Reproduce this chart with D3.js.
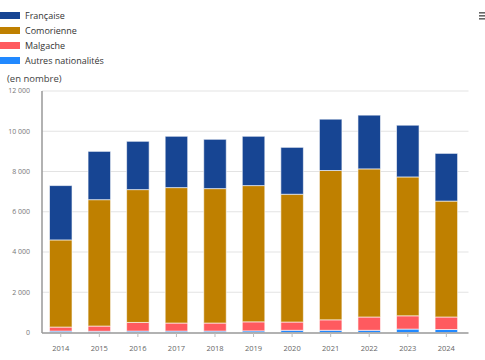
<!DOCTYPE html>
<html><head><meta charset="utf-8">
<script src="https://cdn.jsdelivr.net/npm/d3@7"></script>
<style>body{margin:0;background:#fff;font-family:"Open Sans",sans-serif;}</style>
</head><body><svg id="c" width="485" height="360"></svg>
<script>
const years = ["2014","2015","2016","2017","2018","2019","2020","2021","2022","2023","2024"];
const seriesNames = ["Autres nationalités","Malgache","Comorienne","Française"];
const autres = [70,60,70,70,70,80,110,110,110,170,150];
const malgache = [200,260,430,400,400,450,410,520,660,660,620];
const comorienne = [4330,6280,6600,6730,6680,6770,6350,7420,7360,6900,5760];
const francaise = [2700,2400,2400,2550,2450,2450,2330,2550,2670,2570,2370];
const yTicks = [0,2000,4000,6000,8000,10000,12000];
const colors = {"Française":"#174593","Comorienne":"#bf8000","Malgache":"#ff5a5f","Autres nationalités":"#2189ff"};
const legendOrder = ["Française","Comorienne","Malgache","Autres nationalités"];

const svg = d3.select("#c");
const x = d3.scaleBand().domain(years).range([42,465.1]).paddingInner(0.416).paddingOuter(0.1945);
const y = d3.scaleLinear().domain([0,12000]).range([332.5,91]);

const table = years.map((yr,i)=>({year:yr,"Autres nationalités":autres[i],"Malgache":malgache[i],"Comorienne":comorienne[i],"Française":francaise[i]}));
const stacked = d3.stack().keys(seriesNames)(table);

// grid
svg.append("g").selectAll("line").data(yTicks.filter(d=>d>0)).join("line")
  .attr("x1",42).attr("x2",468.5).attr("y1",d=>y(d)).attr("y2",d=>y(d))
  .attr("stroke","#e3e3e3").attr("stroke-width",1);

// y labels
svg.append("g").selectAll("text").data(yTicks).join("text")
  .attr("x",30).attr("y",d=>y(d)).attr("dy","0.35em").attr("text-anchor","end")
  .attr("font-size",7).attr("fill","#777").text(d=>d3.format(",")(d).replace(/,/g," "));

// bars
svg.append("g").selectAll("g").data(stacked).join("g")
  .attr("fill",d=>colors[d.key])
  .selectAll("rect").data(d=>d).join("rect")
  .attr("x",d=>x(d.data.year)).attr("width",x.bandwidth())
  .attr("y",d=>y(d[1])).attr("height",d=>y(d[0])-y(d[1]))
  .attr("stroke","rgba(255,255,255,0.6)").attr("stroke-width",1);

// axes lines
svg.append("line").attr("x1",42).attr("x2",42).attr("y1",91).attr("y2",333).attr("stroke","#999").attr("stroke-width",1.5);
svg.append("line").attr("x1",42).attr("x2",468.5).attr("y1",333).attr("y2",333).attr("stroke","#999").attr("stroke-width",1.5);

// x ticks and labels
const xa = svg.append("g");
xa.selectAll("line").data(years).join("line")
  .attr("x1",d=>x(d)+x.bandwidth()/2).attr("x2",d=>x(d)+x.bandwidth()/2)
  .attr("y1",333).attr("y2",337).attr("stroke","#bbb");
xa.selectAll("text").data(years).join("text")
  .attr("x",d=>x(d)+x.bandwidth()/2).attr("y",348).attr("dy","0.35em").attr("text-anchor","middle")
  .attr("font-size",7.5).attr("fill","#666").text(d=>d);

// legend
const lg = svg.append("g").selectAll("g").data(legendOrder).join("g")
  .attr("transform",(d,i)=>`translate(0,${15.5+i*15})`);
lg.append("rect").attr("x",0).attr("y",-3.5).attr("width",20).attr("height",7).attr("fill",d=>colors[d]);
lg.append("text").attr("x",25).attr("y",0).attr("dy","0.35em").attr("font-size",9).attr("fill","#333").text(d=>d);

svg.append("text").attr("x",7).attr("y",79).attr("dy","0.35em").attr("font-size",9.5).attr("fill","#444").text("(en nombre)");

// menu icon
svg.append("g").selectAll("rect").data([0,1,2]).join("rect")
  .attr("x",479).attr("y",d=>12+d*3).attr("width",6).attr("height",1.6).attr("fill","#666");
</script></body></html>
